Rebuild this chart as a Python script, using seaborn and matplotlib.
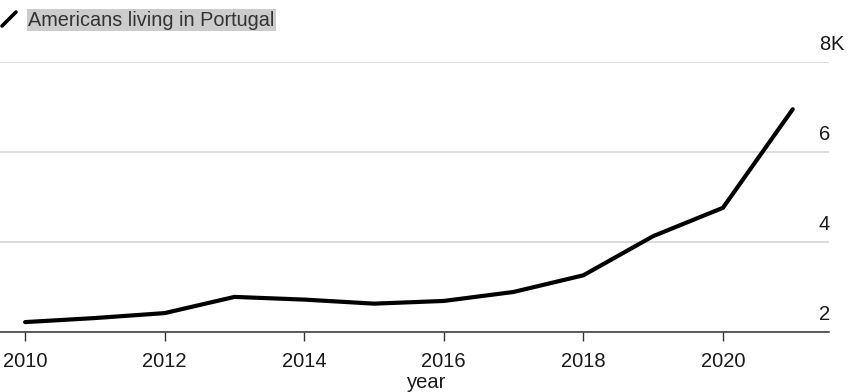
import matplotlib
matplotlib.use("Agg")
import matplotlib.pyplot as plt
import matplotlib.lines as mlines
import matplotlib.transforms as mtrans
import seaborn as sns
import pandas as pd

years = [2010, 2011, 2012, 2013, 2014, 2015, 2016, 2017, 2018, 2019, 2020, 2021]
americans_k = [2.22, 2.31, 2.42, 2.78, 2.72, 2.63, 2.69, 2.89, 3.26, 4.13, 4.76, 6.95]
x_ticks = [2010, 2012, 2014, 2016, 2018, 2020]
y_ticks = [2, 4, 6, 8]
y_tick_labels = ["2", "4", "6", "8"]
series_name = "Americans living in Portugal"

df = pd.DataFrame({"year": years, "value": americans_k})

sns.set_theme(style="white")
plt.rcParams["font.family"] = ["Liberation Sans", "DejaVu Sans"]

FS = 14.5
W, H = 850, 392
fig = plt.figure(figsize=(8.5, 3.92), dpi=100)
ax = fig.add_axes([0 / W, (H - 332) / H, 829 / W, (332 - 62) / H])

sns.lineplot(data=df, x="year", y="value", ax=ax, color="black", linewidth=3.0,
             solid_joinstyle="miter", clip_on=False)

ax.set_xlim(2009.64, 2021.52)
ax.set_ylim(2, 8)

for s in ["top", "left", "right"]:
    ax.spines[s].set_visible(False)
ax.spines["bottom"].set_color("#333333")
ax.spines["bottom"].set_linewidth(1.1)

ax.set_xticks(x_ticks)
ax.set_xticklabels([str(t) for t in x_ticks], fontsize=FS, color="#1a1a1a")
ax.tick_params(axis="x", direction="out", length=6.5, width=1.0, color="#333333", pad=8, bottom=True)

ax.set_yticks(y_ticks)
ax.set_yticklabels([])
ax.tick_params(axis="y", length=0, left=False, right=False)
ax.yaxis.grid(True, color="#dddddd", linewidth=1.4)
ax.xaxis.grid(False)
ax.set_axisbelow(True)

# y tick labels on the right, above gridlines
off = mtrans.ScaledTranslation(0, 11.5 / 100, fig.dpi_scale_trans)
blend = mtrans.blended_transform_factory(ax.transAxes, ax.transData)
for v, lab in zip(y_ticks, y_tick_labels):
    ax.text(1.0 + 1 / 829, v, lab, transform=blend + off, ha="right", va="baseline",
            fontsize=FS, color="#1a1a1a", clip_on=False)
    if v == y_ticks[-1]:
        ax.text(1.0 + 1 / 829, v, "K", transform=blend + off, ha="left", va="baseline",
                fontsize=FS, color="#1a1a1a", clip_on=False)

ax.set_xlabel("year", fontsize=FS, color="#1a1a1a", va="top")
ax.xaxis.set_label_coords(427 / 829, -41 / 270)
ax.set_ylabel("")

# legend
fig.add_artist(mlines.Line2D([2 / W, 16 / W], [(H - 26) / H, (H - 12) / H], color="black",
                             linewidth=2.6, transform=fig.transFigure))
fig.text(28 / W, (H - 20) / H, series_name, fontsize=14.3, color="#333333",
         ha="left", va="center",
         bbox=dict(facecolor="#cccccc", edgecolor="none", pad=1.0))

fig.savefig("out.png", dpi=100)
